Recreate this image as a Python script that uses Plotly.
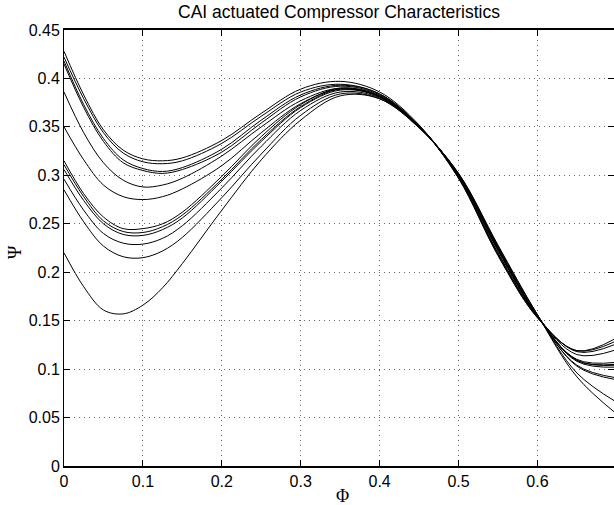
import plotly.graph_objects as go

# Flow coefficient sample positions (Phi)
phi = [0.0, 0.025, 0.05, 0.075, 0.10, 0.125, 0.15, 0.20, 0.25, 0.30, 0.35, 0.40,
       0.45, 0.50, 0.55, 0.60, 0.65, 0.70]

# Pressure rise (Psi)
psi_u1 = [0.428, 0.383, 0.347, 0.326, 0.317, 0.315, 0.318, 0.336, 0.364, 0.389, 0.397, 0.386, 0.352, 0.297, 0.217, 0.153, 0.119, 0.132]
psi_u2 = [0.422, 0.379, 0.344, 0.323, 0.314, 0.312, 0.315, 0.333, 0.361, 0.386, 0.394, 0.384, 0.351, 0.297, 0.218, 0.153, 0.119, 0.129]
psi_u3 = [0.418, 0.373, 0.338, 0.316, 0.307, 0.304, 0.308, 0.327, 0.357, 0.383, 0.393, 0.384, 0.351, 0.298, 0.219, 0.154, 0.118, 0.126]
psi_u4 = [0.415, 0.370, 0.335, 0.313, 0.305, 0.302, 0.306, 0.324, 0.354, 0.381, 0.392, 0.383, 0.351, 0.298, 0.220, 0.154, 0.115, 0.120]
psi_u5 = [0.386, 0.344, 0.313, 0.295, 0.288, 0.290, 0.297, 0.320, 0.350, 0.377, 0.390, 0.382, 0.351, 0.299, 0.222, 0.154, 0.110, 0.107]
psi_u6 = [0.350, 0.316, 0.290, 0.278, 0.275, 0.278, 0.286, 0.310, 0.344, 0.374, 0.389, 0.381, 0.350, 0.299, 0.223, 0.155, 0.109, 0.105]
psi_l1 = [0.315, 0.281, 0.257, 0.245, 0.245, 0.250, 0.262, 0.299, 0.340, 0.373, 0.390, 0.382, 0.351, 0.300, 0.224, 0.155, 0.109, 0.104]
psi_l2 = [0.311, 0.278, 0.253, 0.242, 0.241, 0.247, 0.259, 0.296, 0.337, 0.371, 0.389, 0.381, 0.350, 0.300, 0.224, 0.155, 0.108, 0.102]
psi_l3 = [0.306, 0.274, 0.250, 0.239, 0.238, 0.244, 0.256, 0.294, 0.335, 0.370, 0.388, 0.381, 0.350, 0.301, 0.225, 0.155, 0.104, 0.091]
psi_l4 = [0.296, 0.264, 0.240, 0.230, 0.229, 0.235, 0.248, 0.287, 0.330, 0.367, 0.386, 0.380, 0.350, 0.301, 0.226, 0.156, 0.103, 0.089]
psi_l5 = [0.285, 0.252, 0.227, 0.216, 0.215, 0.222, 0.236, 0.277, 0.322, 0.362, 0.384, 0.379, 0.349, 0.302, 0.227, 0.156, 0.096, 0.066]
psi_l6 = [0.220, 0.185, 0.161, 0.157, 0.166, 0.184, 0.209, 0.264, 0.316, 0.357, 0.382, 0.379, 0.349, 0.302, 0.228, 0.156, 0.092, 0.054]

curves = [psi_u1, psi_u2, psi_u3, psi_u4, psi_u5, psi_u6,
          psi_l1, psi_l2, psi_l3, psi_l4, psi_l5, psi_l6]

x_tick_vals = [0, 0.1, 0.2, 0.3, 0.4, 0.5, 0.6]
x_tick_text = ["0", "0.1", "0.2", "0.3", "0.4", "0.5", "0.6"]
y_tick_vals = [0, 0.05, 0.1, 0.15, 0.2, 0.25, 0.3, 0.35, 0.4, 0.45]
y_tick_text = ["0", "0.05", "0.1", "0.15", "0.2", "0.25", "0.3", "0.35", "0.4", "0.45"]

title_text = "CAI actuated Compressor Characteristics"
x_label = "Φ"
y_label = "Ψ"

fig = go.Figure()
for c in curves:
    fig.add_trace(go.Scatter(x=phi, y=c, mode="lines",
                             line=dict(color="black", width=1, shape="spline"),
                             showlegend=False, hoverinfo="skip"))

# invisible trace on the right axis so its ticks render
fig.add_trace(go.Scatter(x=[0], y=[0], yaxis="y2", mode="markers",
                         marker=dict(opacity=0), showlegend=False, hoverinfo="skip"))

sans = "Liberation Sans, Arial, sans-serif"
serif = "Liberation Serif, DejaVu Serif, serif"
tick_font = dict(family=sans, size=16, color="black")

fig.update_layout(
    width=614, height=505,
    margin=dict(l=64, r=0, t=30, b=39),
    paper_bgcolor="white", plot_bgcolor="white",
    title=dict(text=title_text, x=0.5, xref="paper", xanchor="center",
               y=1 - 12 / 505, yref="container", yanchor="middle",
               font=dict(family=sans, size=17.5, color="black")),
    xaxis=dict(range=[0, 0.697], tickvals=x_tick_vals, ticktext=x_tick_text,
               ticks="inside", ticklen=6, tickcolor="black", tickwidth=1,
               showline=True, linecolor="black", linewidth=2, mirror="ticks",
               showgrid=True, gridcolor="#666666", griddash="1px,4px", gridwidth=1,
               zeroline=False, tickfont=tick_font),
    yaxis=dict(range=[0, 0.45], tickvals=y_tick_vals, ticktext=y_tick_text,
               ticks="inside", ticklen=6, tickcolor="black", tickwidth=1,
               showline=True, linecolor="black", linewidth=1, mirror=False,
               showgrid=True, gridcolor="#666666", griddash="1px,4px", gridwidth=1,
               zeroline=False, tickfont=tick_font),
    yaxis2=dict(range=[0, 0.45], tickvals=y_tick_vals, overlaying="y", side="right",
                ticks="inside", ticklen=6, tickcolor="black", tickwidth=1,
                showline=False, showgrid=False, zeroline=False, showticklabels=False),
    annotations=[
        dict(text=x_label, xref="paper", yref="paper", x=(342 - 64) / 550, y=-(496 - 466) / 436,
             xanchor="center", yanchor="middle", showarrow=False,
             font=dict(family=serif, size=18, color="black")),
        dict(text=y_label, xref="paper", yref="paper", x=-(64 - 15) / 550, y=(466 - 252) / 436,
             xanchor="center", yanchor="middle", showarrow=False, textangle=-90,
             font=dict(family=serif, size=18, color="black")),
    ],
)

fig.write_html("out.html", config={"displayModeBar": False},
               post_script="document.body.style.margin='0';document.body.style.overflow='hidden';")
